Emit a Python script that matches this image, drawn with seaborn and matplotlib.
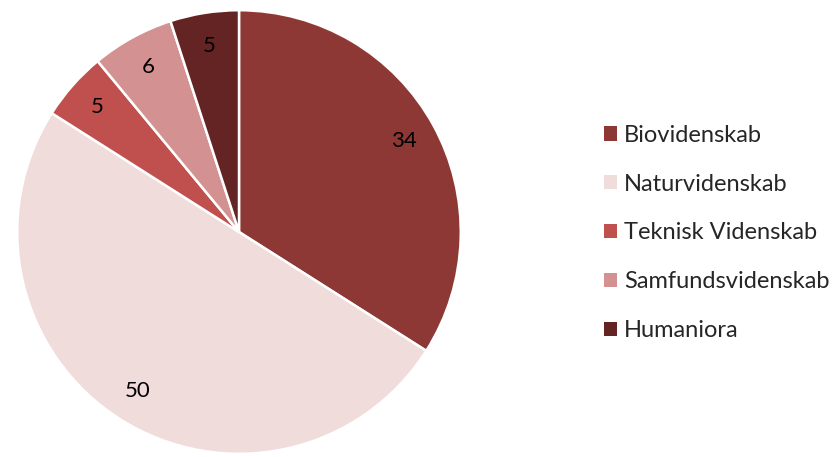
import numpy as np
import matplotlib
matplotlib.use("Agg")
import matplotlib.pyplot as plt
import seaborn as sns

# fields and counts
categories = ['Biovidenskab', 'Naturvidenskab', 'Teknisk Videnskab',
              'Samfundsvidenskab', 'Humaniora']
counts = [34, 50, 5, 6, 5]
colours = ['#8e3836', '#f1dcdc', '#c0504d', '#d39291', '#632423']


def main():
    sns.set_theme(style="white")
    plt.rcParams['font.family'] = ['Lato', 'DejaVu Sans']

    fig = plt.figure(figsize=(8.37, 4.57), dpi=100)
    # pie axes: centre ~ (239, 232) px, radius ~ 224 px
    ax = fig.add_axes([15 / 837, 1 / 457, 448 / 837, 448 / 457])
    pal = sns.color_palette(colours)
    wedges, texts, autotexts = ax.pie(
        counts, colors=pal, startangle=90, counterclock=False,
        autopct=lambda p: f"{p * sum(counts) / 100:.0f}", pctdistance=0.85,
        wedgeprops=dict(edgecolor='white', linewidth=1.8),
        textprops=dict(fontsize=16, color='black'))
    ax.set_xlim(-1.01, 1.01)
    ax.set_ylim(-1.01, 1.01)
    ax.set_aspect('equal')

    leg = fig.legend(wedges, categories, loc='center left',
                     bbox_to_anchor=(583 / 837, 1 - 233 / 457),
                     frameon=False, fontsize=17, handlelength=0.55,
                     handleheight=0.55, handletextpad=0.3, labelspacing=1.18)
    for h in leg.legend_handles:
        h.set_edgecolor('none')

    fig.savefig('out.png', dpi=100)


if __name__ == '__main__':
    main()
